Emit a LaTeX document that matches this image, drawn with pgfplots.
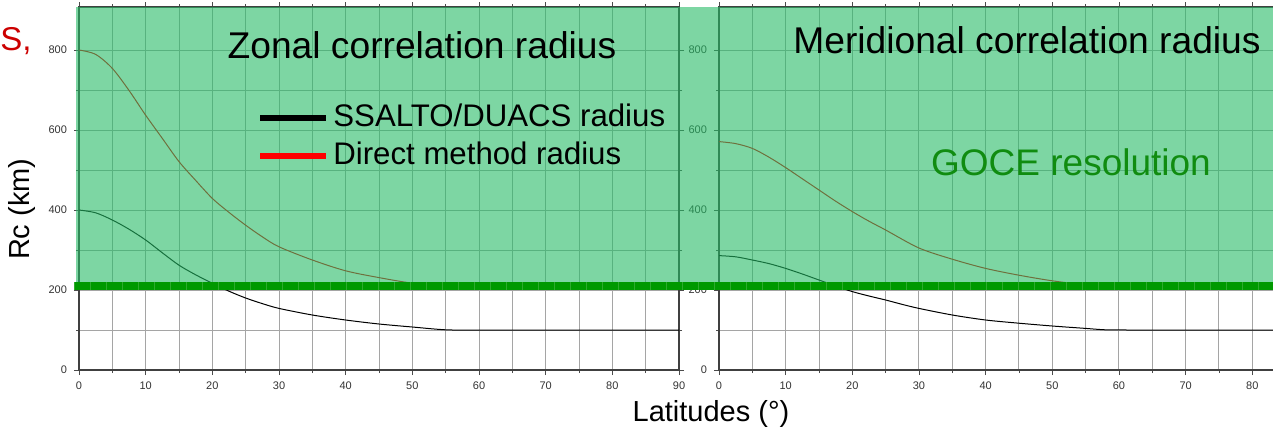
\documentclass[border=0pt]{standalone}
\usepackage{fontspec}
\setmainfont{Liberation Sans}
\usepackage{pgfplots}
\pgfplotsset{compat=1.18}
\definecolor{ovl}{RGB}{38,187,102}
\definecolor{band}{RGB}{0,153,0}
\definecolor{goce}{RGB}{16,140,16}
\definecolor{redc}{RGB}{220,0,0}
\definecolor{gridc}{RGB}{165,165,165}
\pgfplotsset{
  panel/.style={
    scale only axis, height=181.5pt,
    ymin=0, ymax=907.5,
    ytick={0,200,...,800}, minor y tick num=1,
    minor x tick num=1,
    grid=both,
    major grid style={draw=gridc, line width=0.5pt},
    minor grid style={draw=gridc, line width=0.5pt},
    tick align=outside, tick pos=both,
    xticklabel pos=bottom, yticklabel pos=left,
    major tick length=2.5pt, minor tick length=1.5pt,
    every tick/.style={draw=black!70, line width=0.4pt},
    axis line style={draw=black!75, line width=0.7pt},
    /pgf/number format/assume math mode=true,
    every tick label/.append style={font=\fontsize{5.5}{6}\selectfont, text=black!80},
    clip=false,
  }
}
\begin{document}
\begin{tikzpicture}
\useasboundingbox (-39.5pt,-33pt) rectangle (597pt,185pt);
% left panel: zonal
\begin{axis}[panel, at={(0pt,0pt)}, anchor=south west, width=300pt,
  xmin=0, xmax=90, xtick={0,10,...,90}]
\addplot[redc, line width=0.5pt, smooth, tension=0.5] coordinates {
(0,800)(2.5,789)(5,754)(7.5,699)(10,637)(12.5,579)(15,521)(17.5,474)(20,429)
(22.5,394)(25,362)(27.5,333)(30,308)(35,275)(40,248)(45,231)(50,217)(55,209)
(60,205)(65,204)(70,204)(90,204)};
\addplot[black, line width=0.5pt, smooth, tension=0.5] coordinates {
(0,400)(2.5,393)(5,375)(7.5,352)(10,325)(12.5,293)(15,262)(17.5,238)(20,217)
(22.5,197)(25,180)(27.5,166)(30,154)(35,137.5)(40,125)(45,115)(50,107.5)(55,100.5)(60,100)(70,100)(90,100)};
\end{axis}
% right panel: meridional
\begin{axis}[panel, at={(320pt,0pt)}, anchor=south west, width=278.3pt,
  xmin=0, xmax=83.5, xtick={0,10,...,80}]
\addplot[redc, line width=0.5pt, smooth, tension=0.5] coordinates {
(0,571)(2.5,566)(5,554)(7.5,532)(10,506)(12.5,478)(15,450)(17.5,422)(20,396)
(22.5,372)(25,350)(30,305)(35,277)(40,254)(45,237)(50,223)(55,213)(60,207)
(65,205)(70,204)(83.5,204)};
\addplot[black, line width=0.5pt, smooth, tension=0.5] coordinates {
(0,286)(2.5,283)(5,275)(7.5,266)(10,254)(12.5,240)(15,225)(17.5,210)(20,196)
(22.5,185)(25,175)(27.5,164)(30,154)(35,137.5)(40,125)(45,117)(50,110)(55,104)(58,100.5)(62,100)(70,100)(83.5,100)};
\end{axis}
% overlay: GOCE resolution region, band, texts, legend
\begin{axis}[hide axis, scale only axis, at={(0pt,0pt)}, anchor=south west,
  width=300pt, height=181.5pt, xmin=0, xmax=90, ymin=0, ymax=907.5, clip=false,
  legend style={at={(axis cs:26.7,667.5)}, anchor=north west, draw=none, fill=none,
    inner sep=0pt, row sep=4.5pt, column sep=2pt,
    font=\fontsize{15.6}{19}\selectfont,
    nodes={inner sep=0pt, text height=11.5pt, text depth=3pt}},
  legend cell align=left,
  legend image code/.code={\draw[#1, line width=3pt] (0pt,0pt) -- (33pt,0pt);}]
\addplot[draw=none, fill=ovl, fill opacity=0.6, forget plot] coordinates {
(-0.4,210) (179.5,210) (179.5,907.5) (-0.4,907.5)} -- cycle;
\addplot[band, line width=3.85pt, forget plot] coordinates {(-0.75,209.5) (179.5,209.5)};
\addplot[white, opacity=0.18, line width=3.85pt, dash pattern=on 0.4pt off 7.6pt, forget plot]
  coordinates {(-0.75,209.5) (179.5,209.5)};
\addlegendimage{black}
\addlegendentry{SSALTO/DUACS radius}
\addlegendimage{red}
\addlegendentry{Direct method radius}
\node[anchor=base, font=\fontsize{18.6}{20}\selectfont] at (axis cs:51.45,780) {Zonal correlation radius};
\node[anchor=base, font=\fontsize{18.6}{20}\selectfont] at (axis cs:142.2,792.5) {Meridional correlation radius};
\node[anchor=base, font=\fontsize{18.5}{20}\selectfont, text=goce] at (axis cs:148.8,487.5) {GOCE resolution};
\node[anchor=base west, font=\fontsize{16.5}{18}\selectfont, text=red!80!black, inner sep=0pt] at (axis cs:-11.85,800) {S,};
\node[rotate=90, font=\fontsize{14.5}{16}\selectfont] at (axis cs:-8.55,402) {Rc (km)};
\node[font=\fontsize{14.5}{16}\selectfont] at (axis cs:94.8,-110) {Latitudes (°)};
\end{axis}
\end{tikzpicture}
\end{document}
